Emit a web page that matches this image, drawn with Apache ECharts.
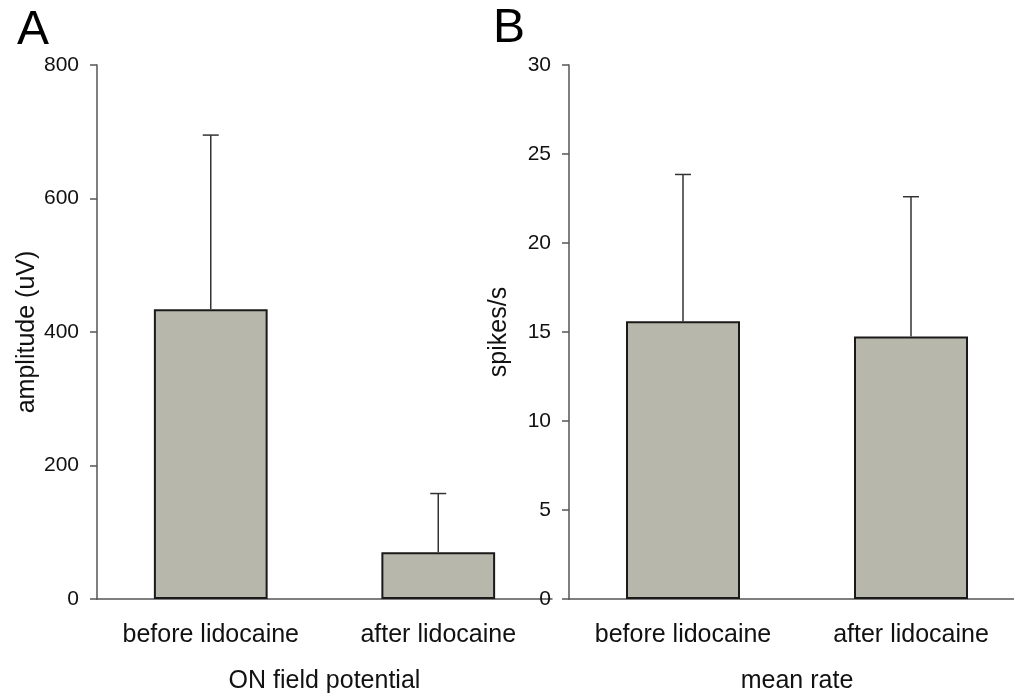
<!DOCTYPE html>
<html>
<head>
<meta charset="utf-8">
<script src="https://cdn.jsdelivr.net/npm/echarts@6/dist/echarts.min.js"></script>
<style>html,body{margin:0;padding:0;background:#fff;overflow:hidden;width:1014px;height:699px}#c{width:1030px;height:699px}</style>
</head>
<body>
<div id="c"></div>
<script>
var categories = ['before lidocaine', 'after lidocaine'];
var ampMean = [434, 70];
var ampErr = [261, 88];
var rateMean = [15.6, 14.75];
var rateErr = [8.25, 7.85];
var ampTicks = [0, 200, 400, 600, 800];
var rateTicks = [0, 5, 10, 15, 20, 25, 30];

var FONT = '"Liberation Sans", Arial, sans-serif';
var AXIS = '#555';
var BAR = '#b8b7ab';

function errSeries(xi, yi, means, errs) {
  return {
    type: 'custom', xAxisIndex: xi, yAxisIndex: yi, z: 5, silent: true,
    data: means.map(function (m, i) { return [i, m, m + errs[i]]; }),
    renderItem: function (params, api) {
      var p0 = api.coord([api.value(0), api.value(1)]);
      var p1 = api.coord([api.value(0), api.value(2)]);
      var hw = 8;
      var st = { stroke: '#333', lineWidth: 1.5 };
      return { type: 'group', children: [
        { type: 'line', shape: { x1: p0[0], y1: p0[1], x2: p1[0], y2: p1[1] }, style: st },
        { type: 'line', shape: { x1: p1[0] - hw, y1: p1[1], x2: p1[0] + hw, y2: p1[1] }, style: st }
      ]};
    }
  };
}

function xAx(gi, name) {
  return {
    type: 'category', gridIndex: gi, data: categories,
    name: name, nameLocation: 'middle', nameGap: 70,
    nameTextStyle: { fontFamily: FONT, fontSize: 25, color: '#111' },
    axisLine: { lineStyle: { color: AXIS, width: 1.5 } },
    axisTick: { alignWithLabel: true, length: 8, lineStyle: { color: AXIS, width: 1.5 } },
    axisLabel: { interval: 0, hideOverlap: false, fontFamily: FONT, fontSize: 25, color: '#111', margin: 24 },
    splitLine: { show: false }
  };
}
function yAx(gi, name, max, interval, gap) {
  return {
    type: 'value', gridIndex: gi, min: 0, max: max, interval: interval,
    name: name, nameLocation: 'middle', nameGap: gap,
    nameTextStyle: { fontFamily: FONT, fontSize: 25, color: '#111' },
    axisLine: { show: true, lineStyle: { color: AXIS, width: 1.5 } },
    axisTick: { show: true, length: 7, lineStyle: { color: AXIS, width: 1.5 } },
    axisLabel: { fontFamily: FONT, fontSize: 21, color: '#111', margin: 18 },
    splitLine: { show: false }
  };
}

var barStyle = { color: BAR, borderColor: '#1a1a1a', borderWidth: 2 };

var chart = echarts.init(document.getElementById('c'), null, { renderer: 'canvas' });
chart.setOption({
  animation: false,
  backgroundColor: '#fff',
  title: [
    { text: 'A', left: 12, top: 2, textStyle: { fontFamily: FONT, fontSize: 48, fontWeight: 'normal', color: '#000' } },
    { text: 'B', left: 488, top: 0, textStyle: { fontFamily: FONT, fontSize: 48, fontWeight: 'normal', color: '#000' } }
  ],
  grid: [
    { left: 97, width: 455, top: 65, bottom: 98 },
    { left: 569, width: 456, top: 65, bottom: 98 }
  ],
  xAxis: [xAx(0, 'ON field potential'), xAx(1, 'mean rate')],
  yAxis: [yAx(0, 'amplitude (uV)', ampTicks[ampTicks.length - 1], ampTicks[1] - ampTicks[0], 57),
          yAx(1, 'spikes/s', rateTicks[rateTicks.length - 1], rateTicks[1] - rateTicks[0], 57)],
  series: [
    { type: 'bar', xAxisIndex: 0, yAxisIndex: 0, data: ampMean, barWidth: '50%', itemStyle: barStyle },
    errSeries(0, 0, ampMean, ampErr),
    { type: 'bar', xAxisIndex: 1, yAxisIndex: 1, data: rateMean, barWidth: '50%', itemStyle: barStyle },
    errSeries(1, 1, rateMean, rateErr)
  ]
});
</script>
</body>
</html>
